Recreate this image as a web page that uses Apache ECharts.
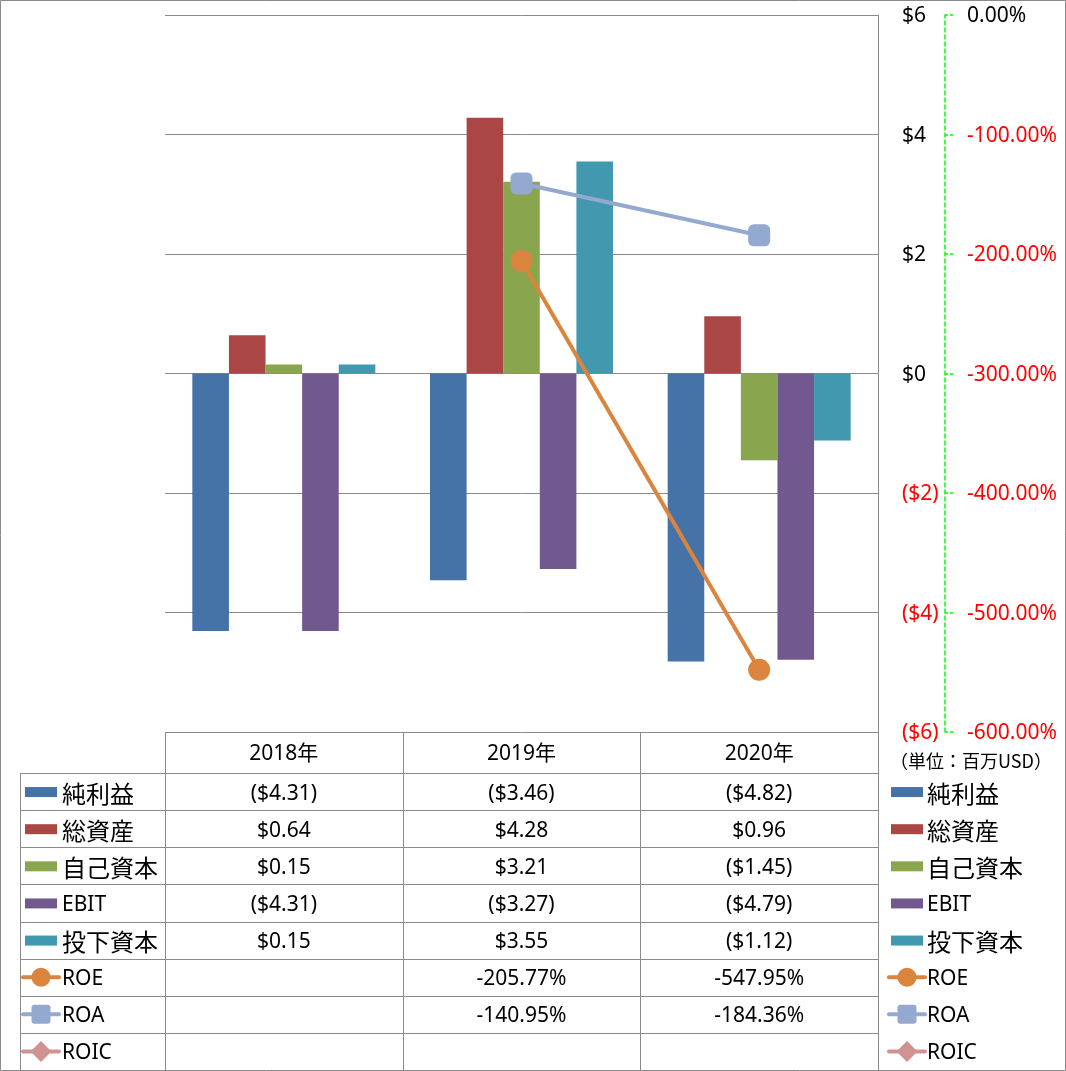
<!DOCTYPE html>
<html>
<head>
<meta charset="utf-8">
<script src="https://cdn.jsdelivr.net/npm/echarts@6/dist/echarts.min.js"></script>
<style>
html,body{margin:0;padding:0;background:#fff;}
#c{width:1066px;height:1071px;}
</style>
</head>
<body>
<div id="c"></div>
<script>
// ---- data ----
const categories = ['2018年', '2019年', '2020年'];
const barNames = ['純利益', '総資産', '自己資本', 'EBIT', '投下資本'];
const netIncome = [-4.31, -3.46, -4.82];
const totalAssets = [0.64, 4.28, 0.96];
const equity = [0.15, 3.21, -1.45];
const ebit = [-4.31, -3.27, -4.79];
const investedCapital = [0.15, 3.55, -1.12];
const lineNames = ['ROE', 'ROA', 'ROIC'];
const roe = [null, -205.77, -547.95];
const roa = [null, -140.95, -184.36];
const roic = [null, null, null];
const unitLabel = '（単位：百万USD）';

const barData = [netIncome, totalAssets, equity, ebit, investedCapital];
const lineData = [roe, roa, roic];
const barColors = ['#4572A7', '#AA4643', '#89A54E', '#71588F', '#4198AF'];
const lineColors = ['#DB843D', '#93A9CF', '#D19392'];
const lineSymbols = ['circle', 'roundRect', 'diamond'];

const FONT = "'Noto Sans', 'Noto Sans CJK JP', sans-serif";
const CJK = "'Noto Sans CJK JP', 'Noto Sans', sans-serif";
const GRAY = '#8a8a8a';
const GREEN = '#00ff00';
const G = {left: 165, top: 15, width: 713, height: 717};

function money(v) {
  return v < 0 ? '($' + Math.abs(v).toFixed(2) + ')' : '$' + v.toFixed(2);
}
function pct(v) { return v.toFixed(2) + '%'; }

const chart = echarts.init(document.getElementById('c'));

const series = [];
barNames.forEach((n, i) => {
  series.push({
    name: n, type: 'bar', data: barData[i], yAxisIndex: 0,
    barGap: '0%', barCategoryGap: '23%',
    itemStyle: {color: barColors[i]}
  });
});
lineNames.forEach((n, i) => {
  series.push({
    name: n, type: 'line', data: lineData[i], yAxisIndex: 1,
    symbol: lineSymbols[i], symbolSize: 22, connectNulls: false,
    lineStyle: {color: lineColors[i], width: 4},
    itemStyle: {color: lineColors[i]},
    z: 5
  });
});

chart.setOption({
  animation: false,
  backgroundColor: '#fff',
  grid: {left: G.left, top: G.top, width: G.width, height: G.height, containLabel: false},
  xAxis: {
    type: 'category', data: categories, position: 'bottom',
    axisLine: {show: false, onZero: false}, axisTick: {show: false},
    axisLabel: {margin: 12, fontSize: 21, color: '#000', fontFamily: FONT},
    splitLine: {show: false}
  },
  yAxis: [
    {
      type: 'value', position: 'right', min: -6, max: 6, interval: 2,
      axisLine: {show: true, lineStyle: {color: GRAY, width: 1}},
      axisTick: {show: false},
      splitLine: {show: true, lineStyle: {color: GRAY, width: 1}},
      axisLabel: {
        margin: 24, fontSize: 21, fontFamily: FONT, color: '#000',
        padding: [3, 0, 0, 0],
        formatter: v => v < 0 ? '{r|($' + Math.abs(v) + ')}' : '$' + v,
        rich: {r: {color: '#ff0000', fontSize: 21, fontFamily: FONT}}
      }
    },
    {
      type: 'value', position: 'right', offset: 67, min: -600, max: 0, interval: 100,
      axisLine: {show: true, lineStyle: {color: GREEN, width: 1.5, type: [4, 3]}},
      axisTick: {show: true, length: 8, lineStyle: {color: GREEN, width: 1.5, type: [3, 2]}},
      splitLine: {show: false},
      axisLabel: {
        margin: 22, fontSize: 21, fontFamily: FONT, color: '#000',
        padding: [3, 0, 0, 0],
        formatter: v => v < 0 ? '{r|' + v.toFixed(2) + '%}' : v.toFixed(2) + '%',
        rich: {r: {color: '#ff0000', fontSize: 21, fontFamily: FONT}}
      }
    }
  ],
  series: series
});

// ---- data table & legends (graphic) ----
const gEls = [];
const right = G.left + G.width;
const bottom = G.top + G.height;
const rowTop = 773, rowBottom = 1070, nRows = 8;
const rowH = (rowBottom - rowTop) / nRows;
const catW = G.width / categories.length;

function hline(x1, x2, y) {
  gEls.push({type: 'line', shape: {x1: x1, y1: Math.round(y) + 0.5, x2: x2, y2: Math.round(y) + 0.5},
    style: {stroke: GRAY, lineWidth: 1}, silent: true});
}
function vline(x, y1, y2) {
  gEls.push({type: 'line', shape: {x1: Math.round(x) + 0.5, y1: y1, x2: Math.round(x) + 0.5, y2: y2},
    style: {stroke: GRAY, lineWidth: 1}, silent: true});
}
// outer border
gEls.push({type: 'rect', shape: {x: 0.5, y: 0.5, width: 1065, height: 1070},
  style: {stroke: GRAY, fill: null, lineWidth: 1}, silent: true});
// table grid
for (let i = 0; i <= categories.length; i++) vline(G.left + i * catW, bottom, rowBottom);
vline(20, rowTop, rowBottom);
for (let r = 0; r < nRows; r++) hline(20, right, rowTop + r * rowH);

const allNames = barNames.concat(lineNames);
function isCJK(s) { return /[^\x00-\x7f]/.test(s); }

for (let r = 0; r < nRows; r++) {
  const cy = rowTop + (r + 0.5) * rowH;
  const ty = cy + 2;
  // cells
  for (let c = 0; c < categories.length; c++) {
    let v, txt = '';
    if (r < barNames.length) { v = barData[r][c]; if (v != null) txt = money(v); }
    else { v = lineData[r - barNames.length][c]; if (v != null) txt = pct(v); }
    if (!txt) continue;
    const cx = chart.convertToPixel({xAxisIndex: 0}, categories[c]);
    gEls.push({type: 'text', x: cx, y: ty, style: {text: txt, fontSize: 21, fontFamily: FONT,
      fill: '#000', align: 'center', verticalAlign: 'middle'}, silent: true});
  }
  // legends (left and right)
  [[25, 62], [891, 927]].forEach(([mx, tx]) => {
    const name = allNames[r];
    if (r < barNames.length) {
      gEls.push({type: 'rect', shape: {x: mx, y: cy - 4.5, width: 32, height: 10},
        style: {fill: barColors[r]}, silent: true});
    } else {
      const li = r - barNames.length;
      const col = lineColors[li];
      gEls.push({type: 'line', shape: {x1: mx - 2, y1: cy, x2: mx + 34, y2: cy},
        style: {stroke: col, lineWidth: 4, lineCap: 'round'}, silent: true});
      const sc = mx + 16, s = 19;
      if (li === 0) gEls.push({type: 'circle', shape: {cx: sc, cy: cy, r: s / 2}, style: {fill: col}, silent: true});
      else if (li === 1) gEls.push({type: 'rect', shape: {x: sc - s / 2, y: cy - s / 2, width: s, height: s, r: 3}, style: {fill: col}, silent: true});
      else gEls.push({type: 'polygon', shape: {points: [[sc, cy - s / 2 - 1], [sc + s / 2 + 1, cy], [sc, cy + s / 2 + 1], [sc - s / 2 - 1, cy]]}, style: {fill: col}, silent: true});
    }
    gEls.push({type: 'text', x: tx, y: ty, style: {text: name, fontSize: isCJK(name) ? 24 : 21,
      fontFamily: isCJK(name) ? CJK : FONT, fill: '#000', align: 'left', verticalAlign: 'middle'}, silent: true});
  });
}
// unit label
gEls.push({type: 'text', x: 971, y: 761, style: {text: unitLabel, fontSize: 18, fontFamily: CJK,
  fill: '#000', align: 'center', verticalAlign: 'middle'}, silent: true});

chart.setOption({graphic: {elements: gEls}});
</script>
</body>
</html>
